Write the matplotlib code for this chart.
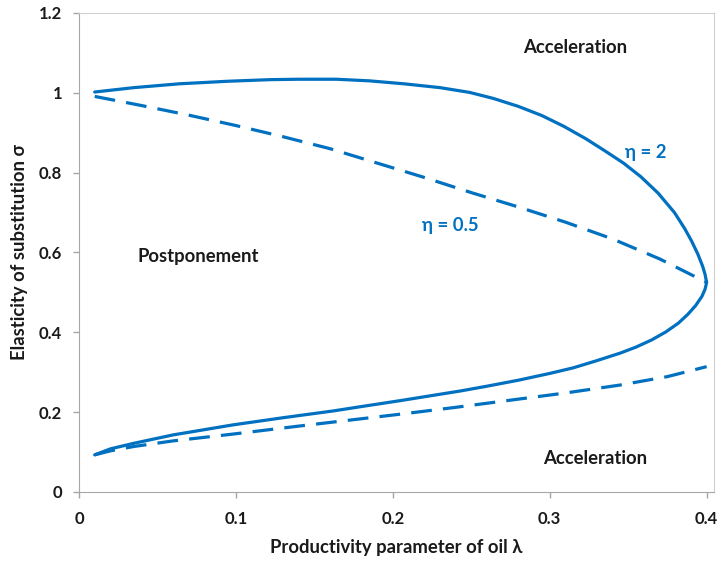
import matplotlib
matplotlib.use("Agg")
import matplotlib.pyplot as plt

# eta = 2 (solid): lower branch then upper branch (C-shaped curve)
eta2_lam = [0.01, 0.02, 0.035, 0.06, 0.098, 0.13, 0.162, 0.18, 0.205, 0.243,
            0.26, 0.28, 0.3, 0.315, 0.33, 0.345, 0.355, 0.365, 0.374, 0.382,
            0.388, 0.393, 0.397, 0.399, 0.4,
            0.399, 0.3975, 0.3945, 0.3905, 0.386, 0.3795, 0.369, 0.358, 0.347,
            0.335, 0.323, 0.309, 0.295, 0.28, 0.264, 0.249, 0.23, 0.207, 0.185,
            0.164, 0.14, 0.122, 0.095, 0.064, 0.035, 0.01]
eta2_sig = [0.093, 0.108, 0.122, 0.143, 0.168, 0.186, 0.203, 0.214, 0.229, 0.253,
            0.265, 0.28, 0.297, 0.311, 0.329, 0.348, 0.363, 0.381, 0.401, 0.423,
            0.445, 0.467, 0.49, 0.508, 0.525,
            0.545, 0.565, 0.595, 0.628, 0.66, 0.70, 0.749, 0.79, 0.824,
            0.855, 0.885, 0.916, 0.943, 0.966, 0.986, 1.001, 1.013, 1.0226, 1.030,
            1.034, 1.034, 1.033, 1.029, 1.0226, 1.013, 1.002]

# eta = 0.5 (dashed): upper and lower branches
eta05_up_lam = [0.01, 0.04, 0.07, 0.1, 0.13, 0.16, 0.19, 0.22, 0.25, 0.28,
                0.31, 0.34, 0.37, 0.4]
eta05_up_sig = [0.991, 0.968, 0.944, 0.918, 0.89, 0.86, 0.824, 0.788, 0.750, 0.714,
                0.676, 0.634, 0.584, 0.525]
eta05_lo_lam = [0.01, 0.02, 0.035, 0.06, 0.098, 0.14, 0.179, 0.205, 0.24, 0.275,
                0.31, 0.345, 0.375, 0.4]
eta05_lo_sig = [0.093, 0.103, 0.114, 0.128, 0.145, 0.165, 0.183, 0.195, 0.212, 0.230,
                0.248, 0.268, 0.289, 0.314]

x_ticks = [0, 0.1, 0.2, 0.3, 0.4]
x_labels = ["0", "0.1", "0.2", "0.3", "0.4"]
y_ticks = [0, 0.2, 0.4, 0.6, 0.8, 1.0, 1.2]
y_labels = ["0", "0.2", "0.4", "0.6", "0.8", "1", "1.2"]

plt.rcParams['font.family'] = ['Lato', 'DejaVu Sans']
blue = '#0070C0'
dark = '#1a1a1a'
fs = 13.3
tfs = 12

fig = plt.figure(figsize=(7.21, 5.62), dpi=100)
ax = fig.add_axes([0.1096, 0.1246, 0.8807, 0.8523])

ax.plot(eta2_lam, eta2_sig, color=blue, lw=2.3, solid_capstyle='round',
        solid_joinstyle='round')
ax.plot(eta05_up_lam, eta05_up_sig, color=blue, lw=2.3, dashes=(6.5, 3.5),
        dash_joinstyle='round')
ax.plot(eta05_lo_lam, eta05_lo_sig, color=blue, lw=2.3, dashes=(6.5, 3.5),
        dash_joinstyle='round')

ax.set_xlim(0, 0.4047)
ax.set_ylim(0, 1.2)
ax.set_xticks(x_ticks)
ax.set_xticklabels(x_labels)
ax.set_yticks(y_ticks)
ax.set_yticklabels(y_labels)

for lab in ax.get_xticklabels() + ax.get_yticklabels():
    lab.set_fontweight('bold')
    lab.set_fontsize(tfs)
    lab.set_color(dark)

ax.tick_params(axis='both', direction='out', length=4.5, width=1, color='#a6a6a6')
ax.tick_params(axis='x', pad=9)
ax.tick_params(axis='y', pad=7.5)

for s in ['left', 'bottom']:
    ax.spines[s].set_color('#a6a6a6')
for s in ['top', 'right']:
    ax.spines[s].set_color('#d0d0d0')

ax.set_xlabel('Productivity parameter of oil λ', fontsize=fs, fontweight='bold',
              color=dark, labelpad=9)
ax.set_ylabel('Elasticity of substitution σ', fontsize=fs, fontweight='bold',
              color=dark, labelpad=8)

ax.text(0.316, 1.113, 'Acceleration', fontsize=fs, fontweight='bold',
        ha='center', va='center', color=dark)
ax.text(0.329, 0.0844, 'Acceleration', fontsize=fs, fontweight='bold',
        ha='center', va='center', color=dark)
ax.text(0.0762, 0.59, 'Postponement', fontsize=fs, fontweight='bold',
        ha='center', va='center', color=dark)
ax.text(0.361, 0.85, 'η = 2', fontsize=fs, fontweight='bold',
        ha='center', va='center', color=blue)
ax.text(0.2368, 0.667, 'η = 0.5', fontsize=fs, fontweight='bold',
        ha='center', va='center', color=blue)

fig.savefig('out.png', dpi=100)
